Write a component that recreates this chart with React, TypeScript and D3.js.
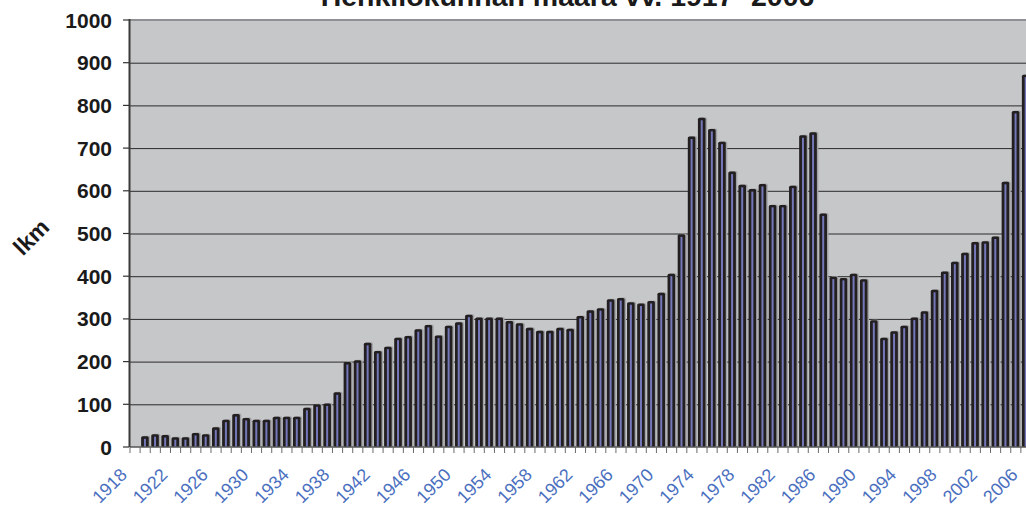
import * as d3 from 'd3';
import { useEffect, useRef } from 'react';

// Years on the category axis (1918 has no bar)
const years: string[] = [
  '1918', '1919', '1920', '1921', '1922', '1923', '1924', '1925', '1926', '1927',
  '1928', '1929', '1930', '1931', '1932', '1933', '1934', '1935', '1936', '1937',
  '1938', '1939', '1940', '1941', '1942', '1943', '1944', '1945', '1946', '1947',
  '1948', '1949', '1950', '1951', '1952', '1953', '1954', '1955', '1956', '1957',
  '1958', '1959', '1960', '1961', '1962', '1963', '1964', '1965', '1966', '1967',
  '1968', '1969', '1970', '1971', '1972', '1973', '1974', '1975', '1976', '1977',
  '1978', '1979', '1980', '1981', '1982', '1983', '1984', '1985', '1986', '1987',
  '1988', '1989', '1990', '1991', '1992', '1993', '1994', '1995', '1996', '1997',
  '1998', '1999', '2000', '2001', '2002', '2003', '2004', '2005', '2006',
];

// Staff count per year
const staff: (number | null)[] = [
  null, 25, 30, 28, 23, 23, 33, 30, 46, 64,
  77, 68, 64, 64, 71, 71, 71, 92, 100, 102,
  128, 199, 203, 244, 225, 235, 256, 260, 276, 286,
  261, 284, 292, 310, 303, 303, 303, 295, 290, 279,
  272, 272, 279, 277, 307, 320, 325, 346, 349, 339,
  336, 342, 361, 406, 498, 727, 771, 745, 715, 645,
  614, 604, 616, 567, 567, 612, 730, 737, 547, 399,
  396, 406, 393, 297, 256, 271, 284, 303, 318, 368,
  411, 434, 455, 480, 482, 493, 621, 787, 872,
];

const xLabels: string[] = [
  '1918', '1922', '1926', '1930', '1934', '1938', '1942', '1946', '1950', '1954', '1958',
  '1962', '1966', '1970', '1974', '1978', '1982', '1986', '1990', '1994', '1998', '2002', '2006',
];

const yTicks: number[] = [0, 100, 200, 300, 400, 500, 600, 700, 800, 900, 1000];

const App = () => {
  const ref = useRef<SVGSVGElement>(null);

  useEffect(() => {
    const width = 1026, height = 506;
    const left = 130, top = 20, bottom = 447, right = 1031;

    const svg = d3.select(ref.current);
    svg.selectAll('*').remove();
    svg.attr('width', width).attr('height', height);

    const x = d3.scaleBand<string>().domain(years).range([left, right]).padding(0);
    const y = d3.scaleLinear().domain([0, 1000]).range([bottom, top]);
    const bw = x.bandwidth();

    // plot background
    svg.append('rect')
      .attr('x', left).attr('y', top)
      .attr('width', right - left).attr('height', bottom - top)
      .attr('fill', '#c6c7c9');

    // gridlines
    svg.append('g').selectAll('line')
      .data(yTicks.filter(d => d > 0 && d < 1000))
      .enter().append('line')
      .attr('x1', left).attr('x2', right)
      .attr('y1', d => y(d) + 0.5).attr('y2', d => y(d) + 0.5)
      .attr('stroke', '#2a2a2a').attr('stroke-width', 1);

    // top border
    svg.append('line')
      .attr('x1', left).attr('x2', right)
      .attr('y1', y(1000)).attr('y2', y(1000))
      .attr('stroke', '#8f9093').attr('stroke-width', 2);

    const data = years.map((yr, i) => ({ yr, v: staff[i] })).filter(d => d.v != null) as { yr: string; v: number }[];

    const bars = svg.append('g');
    // shadow
    bars.selectAll('rect.sh')
      .data(data).enter().append('rect')
      .attr('class', 'sh')
      .attr('x', d => (x(d.yr) as number) + 2.5)
      .attr('y', d => y(d.v) - 0.5)
      .attr('width', bw * 0.75)
      .attr('height', d => bottom - y(d.v) + 0.5)
      .attr('rx', 1.5)
      .attr('fill', '#a2a3a6');
    // dark body
    bars.selectAll('rect.body')
      .data(data).enter().append('rect')
      .attr('class', 'body')
      .attr('x', d => (x(d.yr) as number) + 1)
      .attr('y', d => y(d.v))
      .attr('width', bw * 0.75)
      .attr('height', d => bottom - y(d.v))
      .attr('rx', 1.5)
      .attr('fill', '#231f20');
    // blue core
    bars.selectAll('rect.core')
      .data(data).enter().append('rect')
      .attr('class', 'core')
      .attr('x', d => (x(d.yr) as number) + 1 + bw * 0.375 - 1)
      .attr('y', d => y(d.v) + 2.5)
      .attr('width', 2)
      .attr('height', d => Math.max(0, bottom - y(d.v) - 2.5))
      .attr('fill', '#7478b8');

    // x axis line and ticks
    svg.append('line')
      .attr('x1', left).attr('x2', right)
      .attr('y1', bottom).attr('y2', bottom)
      .attr('stroke', '#555').attr('stroke-width', 1.5);
    svg.append('g').selectAll('line')
      .data(years)
      .enter().append('line')
      .attr('x1', d => (x(d) as number)).attr('x2', d => (x(d) as number))
      .attr('y1', bottom).attr('y2', bottom + 6)
      .attr('stroke', '#6a6a6a').attr('stroke-width', 1);

    // y axis line and ticks
    svg.append('line')
      .attr('x1', left - 0.5).attr('x2', left - 0.5)
      .attr('y1', top - 1).attr('y2', bottom)
      .attr('stroke', '#3a3a3a').attr('stroke-width', 2);
    svg.append('g').selectAll('line')
      .data(yTicks).enter().append('line')
      .attr('x1', left - 7).attr('x2', left - 1)
      .attr('y1', d => y(d)).attr('y2', d => y(d))
      .attr('stroke', '#333').attr('stroke-width', 1.2);

    // y tick labels
    svg.append('g').selectAll('text')
      .data(yTicks).enter().append('text')
      .attr('x', 112).attr('y', d => y(d))
      .attr('dy', '0.36em')
      .attr('text-anchor', 'end')
      .style('font-family', 'Liberation Sans, Arial, sans-serif')
      .style('font-weight', 'bold')
      .style('font-size', '21px')
      .attr('fill', '#1a1a1a')
      .text(d => String(d));

    // x tick labels
    svg.append('g').selectAll('text')
      .data(xLabels).enter().append('text')
      .attr('transform', d => `translate(${(x(d) as number) + bw / 2 - 7}, ${bottom + 29}) rotate(-45)`)
      .attr('text-anchor', 'end')
      .style('font-family', 'Liberation Sans, Arial, sans-serif')
      .style('font-size', '18px')
      .attr('fill', '#4a6fc0')
      .text(d => d);

    // y axis title
    svg.append('text')
      .attr('transform', 'translate(31, 237) rotate(-45)')
      .attr('text-anchor', 'middle')
      .attr('dy', '0.35em')
      .style('font-family', 'Liberation Sans, Arial, sans-serif')
      .style('font-weight', 'bold')
      .style('font-size', '23px')
      .attr('fill', '#1a1a1a')
      .text('lkm');

    // chart title (cropped at top, as in the source image)
    svg.append('text')
      .attr('x', 567.5).attr('y', 6)
      .attr('text-anchor', 'middle')
      .style('font-family', 'Liberation Sans, Arial, sans-serif')
      .style('font-weight', 'bold')
      .style('font-size', '28.5px')
      .attr('fill', '#1a1a1a')
      .text('Henkilökunnan määrä vv. 1917 -2006');
  }, []);

  return (
    <svg ref={ref} style={{ position: 'absolute', left: 0, top: 0, display: 'block', background: '#fff' }}></svg>
  );
};

export default App;
